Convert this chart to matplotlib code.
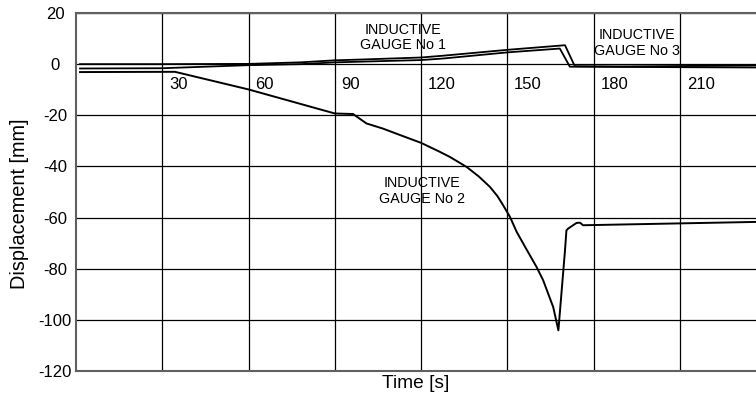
import matplotlib
matplotlib.use("Agg")
import matplotlib.pyplot as plt

plt.rcParams['font.family'] = ['Liberation Sans', 'DejaVu Sans']

# Time axis ticks and displacement ticks
x_ticks = [30, 60, 90, 120, 150, 180, 210]
x_tick_labels = ["30", "60", "90", "120", "150", "180", "210"]
y_ticks = [20, 0, -20, -40, -60, -80, -100, -120]
y_tick_labels = ["20", "0", "-20", "-40", "-60", "-80", "-100", "-120"]

# Inductive gauge No 1 (time [s], displacement [mm])
g1_t = [1.4, 30, 60, 78, 90, 99, 120, 127.6, 150, 170.0, 173.4, 190, 236.4]
g1_d = [0.0, 0.0, 0.1, 0.7, 1.5, 1.8, 2.6, 3.3, 5.6, 7.4, -0.8, -0.9, -0.5]

# Inductive gauge No 3
g3_t = [1.4, 30, 60, 78, 90, 120, 127.6, 150, 168.2, 171.7, 190, 236.4]
g3_d = [-1.7, -1.6, -0.4, 0.0, 0.7, 1.6, 2.2, 4.6, 6.1, -1.0, -1.1, -1.3]

# Inductive gauge No 2
g2_t = [1.4, 34.4, 60, 90, 96.3, 101, 106.7, 112.6, 120, 126.5, 130, 135.8,
        140, 143.9, 146.5, 148.5, 150.9, 153.2, 156.5, 160.1, 162.4, 165.9,
        167.7, 170.0, 170.5, 171.1, 174, 175.2, 176.3, 236.4]
g2_d = [-3.1, -3.0, -9.9, -19.3, -19.5, -23.2, -25.2, -27.7, -30.8, -34.3,
        -36.3, -40.2, -43.9, -48.0, -51.6, -55.2, -59.8, -65.6, -72.2, -79.3,
        -84.5, -95.0, -104.1, -72.8, -65.0, -64.3, -62.1, -62.0, -63.0, -61.7]

fig = plt.figure(figsize=(7.56, 3.97), dpi=100)
ax = fig.add_axes([76 / 756, 1 - 371 / 397, 680 / 756, 358 / 397])

ax.set_xlim(0, 236.4)
ax.set_ylim(-120, 20)

# grid
for xv in x_ticks:
    ax.axvline(xv, color='black', lw=0.9, zorder=1)
for yv in y_ticks:
    ax.axhline(yv, color='black', lw=0.9, zorder=1)

ax.plot(g1_t, g1_d, color='black', lw=1.3, zorder=3)
ax.plot(g3_t, g3_d, color='black', lw=1.3, zorder=3)
ax.plot(g2_t, g2_d, color='black', lw=1.4, zorder=3)

# x tick labels sit just under the zero line, right of each gridline
ax.set_xticks([])
for xv, lbl in zip(x_ticks, x_tick_labels):
    ax.text(xv + 2.3, -9.9, lbl, ha='left', va='baseline', fontsize=12, zorder=4)

ax.set_yticks(y_ticks)
ax.set_yticklabels(y_tick_labels, fontsize=12)
for t in ax.get_yticklabels():
    t.set_horizontalalignment('center')
ax.tick_params(axis='y', length=0, pad=15)

for side in ['left', 'bottom', 'top']:
    ax.spines[side].set_color('#606060')
    ax.spines[side].set_linewidth(1.5)
ax.spines['right'].set_visible(False)

ax.text(113.7, 10.4, "INDUCTIVE\nGAUGE No 1", ha='center', va='center',
        multialignment='center', fontsize=10.3, linespacing=1.15, zorder=4)
ax.text(195.2, 8.3, "INDUCTIVE\nGAUGE No 3", ha='center', va='center',
        multialignment='center', fontsize=10.3, linespacing=1.15, zorder=4)
ax.text(120.4, -49.6, "INDUCTIVE\nGAUGE No 2", ha='center', va='center',
        multialignment='center', fontsize=10.3, linespacing=1.15, zorder=4)

fig.text(416 / 756, 1 - 384 / 397, "Time [s]", ha='center', va='center', fontsize=13.8)
fig.text(20 / 756, 1 - 204 / 397, "Displacement [mm]", ha='center', va='center',
         rotation=90, fontsize=14.3)

fig.savefig("out.png", dpi=100)
